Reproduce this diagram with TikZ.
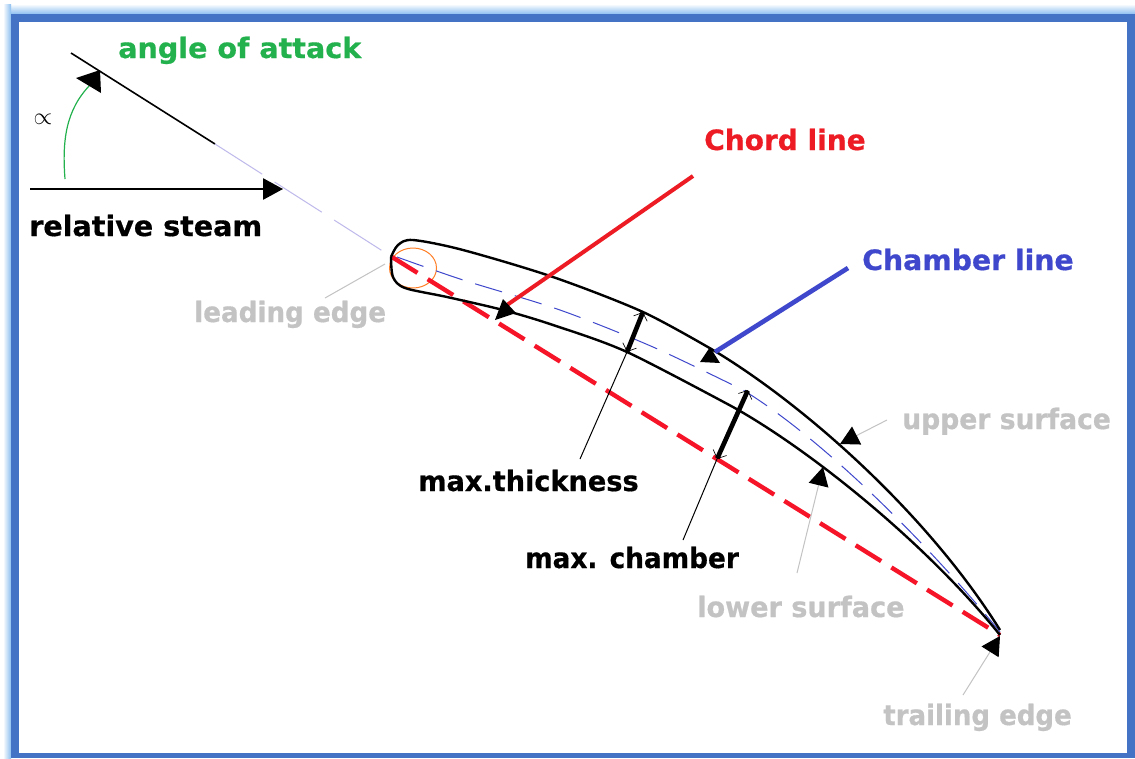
\documentclass[tikz,border=0pt]{standalone}
\usepackage{fontspec}
\setmainfont{DejaVu Sans}[BoldFeatures={FakeBold=0.6}]
\usetikzlibrary{arrows.meta}
\definecolor{framebl}{RGB}{68,114,196}
\definecolor{glowbl}{RGB}{140,190,240}
\definecolor{attackgr}{RGB}{34,177,76}
\definecolor{chordrd}{RGB}{237,28,36}
\definecolor{dashrd}{RGB}{245,20,40}
\definecolor{chamberbl}{RGB}{63,72,204}
\definecolor{labelgy}{RGB}{195,195,195}
\definecolor{leadorg}{RGB}{255,127,39}
\tikzset{
  lbl/.style={font=\bfseries\fontsize{21}{24}\selectfont,anchor=base west,inner sep=0pt},
  leader/.style={color=labelgy,line width=0.75,-{Triangle[black,length=14,width=15]}},
  thinline/.style={color=black,line width=0.75},
  thickdim/.style={color=black,line width=3.5,{Straight Barb[length=5,width=11,line width=0.5]}-{Straight Barb[length=5,width=11,line width=0.5]}},
  profile/.style={color=black,line width=1.8,line join=round},
  head/.style={fill=black}
}
\begin{document}
\begin{tikzpicture}[x=0.75pt,y=0.75pt,yscale=-1,xscale=1]
\useasboundingbox (0,0) rectangle (1135,758);

% frame
\shade [top color=white,bottom color=glowbl] (4,4) rectangle (1135,14);
\shade [left color=white,right color=glowbl] (3,4) rectangle (11,758);
\fill [framebl] (11,14) rectangle (1135,758);
\fill [white] (19,22) rectangle (1127,753);

% end points
\coordinate (tip) at (71,53);
\coordinate (tipEnd) at (215,144);
\coordinate (nose) at (392,257);
\coordinate (tail) at (1000,635);
\coordinate (streamA) at (30,189);
\coordinate (streamB) at (283,189);
\coordinate (chordA) at (693,176);
\coordinate (chordB) at (507,305);
\coordinate (chamberA) at (848,268);
\coordinate (chamberB) at (715,352);
\coordinate (thickA) at (627,352);
\coordinate (thickB) at (643,312);
\coordinate (thickC) at (580,459);
\coordinate (camberA) at (717,459);
\coordinate (camberB) at (748,390);
\coordinate (camberC) at (683,540);
\coordinate (leadA) at (325,298);
\coordinate (leadB) at (385,264);
\coordinate (upperA) at (887,420);
\coordinate (upperB) at (840,444);
\coordinate (lowerA) at (797,573);
\coordinate (lowerB) at (823,467);
\coordinate (trailA) at (963,695);
\coordinate (trailB) at (1000,636);

% angle
\draw [color=black,line width=1.2] (tip) -- (tipEnd);
\draw [color={rgb, 255:red, 190; green, 185; blue, 235 },line width=0.75,dash pattern=on 42 off 11] (tipEnd) -- (nose);
\draw [color=attackgr,line width=0.9] (65,179) .. controls (62,140) and (66,110) .. (90,85);
\fill [head] (76,78) -- (100,70) -- (101,93) -- cycle;
\draw [color=black,line width=1.2,-{Triangle[length=15,width=16]}] (streamA) -- (streamB);

% blade
\draw [color=leadorg,line width=0.75] (413,268) ellipse [x radius=23.5,y radius=20];
\draw [chamberbl,line width=0.75,dash pattern=on 21 off 10] plot [smooth] coordinates {(397,257) (463,280) (560,310) (653,347) (743,390)} .. controls (820,437) and (925,540) .. (1000,632);
\draw [dashrd,line width=3.3,dash pattern=on 22.5 off 9] (nose) -- (tail);
\draw [profile] plot [smooth] coordinates {(391,257) (398,245) (413,240) (463,250) (553,277) (643,312) (713,350)} .. controls (800,402) and (925,510) .. (1000,630);
\draw [profile] plot [smooth] coordinates {(391,257) (393,277) (405,288) (447,297) (503,310) (553,325) (627,352) (733,407)} .. controls (810,450) and (925,542) .. (1000,635);

% callouts
\draw [chordrd,line width=3] (chordA) -- (chordB);
\fill [head] (495,320) -- (503,299) -- (516,313) -- cycle;
\draw [chamberbl,line width=3.5] (chamberA) -- (chamberB);
\fill [head] (710,347) -- (700,362) -- (720,363) -- cycle;
\draw [thickdim] (thickA) -- (thickB);
\draw [thickdim] (camberA) -- (camberB);
\draw [thinline] (thickC) -- (thickA);
\draw [thinline] (camberC) -- (camberA);
\draw [color=labelgy,line width=0.75] (leadA) -- (leadB);
\draw [leader] (upperA) -- (upperB);
\draw [leader] (lowerA) -- (lowerB);
\draw [leader] (trailA) -- (trailB);

% labels
\node [lbl,xscale=1.02,color=attackgr] (attack) at (118,58) {angle of attack};
\node [scale=1.8,inner sep=0pt] (alpha) at (43,119) {$\propto$};
\node [lbl,xscale=1.02,color=black] (stream) at (29,236) {relative steam};
\node [lbl,color=chordrd] (chord) at (704,150) {Chord line};
\node [lbl,xscale=1.01,color=chamberbl] (chamber) at (862,270) {Chamber line};
\node [lbl,xscale=.936,color=labelgy] (leading) at (194,322) {leading edge};
\node [lbl,xscale=.95,color=labelgy] (upper) at (902,429) {upper surface};
\node [lbl,xscale=.967,color=labelgy] (lower) at (697,617) {lower surface};
\node [lbl,xscale=.93,color=labelgy] (trailing) at (883,725) {trailing edge};
\node [lbl,xscale=.97,color=black] (thickness) at (418,491) {max.thickness};
\node [lbl,xscale=.94,color=black] (camber) at (525,568) {max. chamber};

\end{tikzpicture}
\end{document}
